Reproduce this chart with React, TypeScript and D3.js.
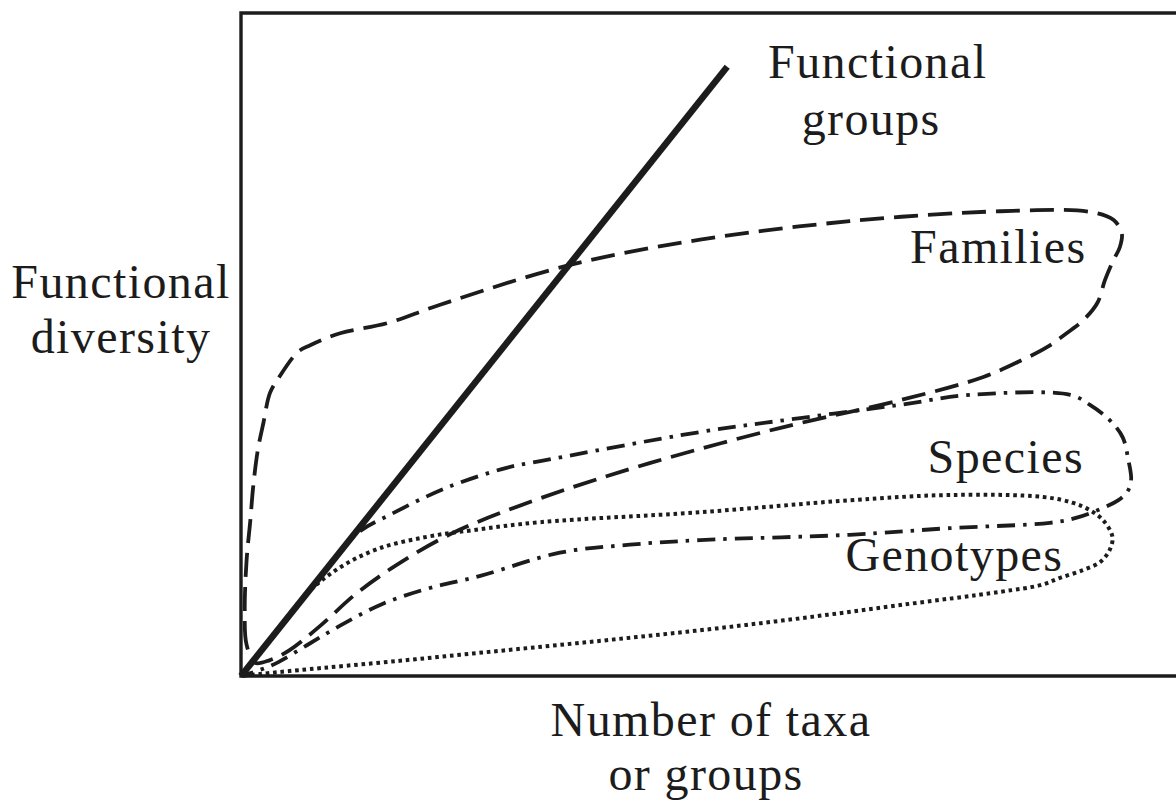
import { useEffect, useRef } from 'react'
import * as d3 from 'd3'

// Conceptual curves (x: number of taxa, y: functional diversity, both 0-100)
const functionalGroups = [
  [0, 0],
  [52.0, 91.9],
]

const families = [
  [1.5, 2.0], [0.6, 4.7], [0.4, 10.0], [0.6, 17.5], [1.0, 23.5], [1.3, 28.5],
  [1.8, 34.1], [2.4, 38.2], [3.1, 42.7], [4.0, 44.9], [6.1, 48.9], [7.4, 49.9],
  [10.6, 51.7], [15.6, 53.2], [21.3, 56.0], [35.2, 62.0], [49.1, 65.8], [65.1, 68.6],
  [81.2, 70.1], [90.8, 70.0], [93.3, 68.8], [94.2, 66.8], [94.0, 64.7], [93.3, 62.7],
  [92.4, 59.7], [91.6, 56.3], [90.1, 53.7], [88.3, 51.7], [86.2, 49.6], [83.6, 47.7],
  [79.4, 45.1], [70.5, 41.6], [57.6, 37.4], [43.7, 32.1], [32.0, 26.8], [22.7, 21.6],
  [16.7, 16.8], [12.3, 12.4], [8.5, 7.6], [5.2, 3.9], [3.1, 2.4],
]

const species = [
  [0, 0], [5.2, 9.2], [9.5, 16.7], [12.5, 21.6], [15.9, 24.3], [22.0, 28.4],
  [28.4, 31.4], [32.0, 32.4], [49.1, 36.8], [59.8, 38.9], [70.5, 40.9], [78.0, 42.4],
  [88.7, 42.4], [90.8, 40.9], [92.9, 38.6], [94.3, 36.0], [94.9, 32.6], [95.2, 29.6],
  [94.8, 27.8], [93.8, 26.5], [91.6, 25.0], [89.2, 23.8], [86.5, 23.1], [75.8, 22.3],
  [65.1, 21.3], [49.1, 20.5], [41.6, 19.8], [34.1, 18.6], [25.6, 15.1], [20.0, 13.2],
  [15.0, 10.8], [10.6, 7.6], [7.0, 4.6], [4.0, 2.1], [1.8, 0.8], [0, 0],
]

const genotypes = [
  [0, 0], [3.6, 6.3], [6.8, 12.1], [10.5, 16.3], [14.7, 19.2], [19.9, 21.0],
  [24.8, 22.0], [32.0, 23.2], [49.1, 24.7], [65.1, 26.5], [75.8, 27.3], [85.8, 27.0],
  [89.0, 26.1], [90.8, 25.0], [92.2, 23.5], [93.2, 21.0], [92.9, 19.0], [91.9, 17.2],
  [90.1, 16.0], [87.6, 14.8], [85.5, 13.7], [81.2, 12.7], [70.5, 10.7], [59.8, 8.7],
  [49.1, 6.9], [38.4, 5.3], [27.7, 3.8], [17.0, 2.3], [6.3, 0.9], [2.0, 0.3], [0, 0],
]

// curve labels: [text, x, y] in data units
const curveLabels = [
  ['Functional', 68.1, 90.2],
  ['groups', 67.4, 81.6],
  ['Families', 81.0, 62.3],
  ['Species', 81.8, 30.6],
  ['Genotypes', 76.3, 15.9],
]

const ink = '#1c1c1c'
const font = '"Liberation Serif", "Times New Roman", serif'

const App = () => {
  const svgRef = useRef(null)

  useEffect(() => {
    const svg = d3.select(svgRef.current)
    svg.selectAll('*').remove()

    const W = 1176
    const H = 805
    const left = 241
    const top = 13
    const bottom = 676

    const x = d3.scaleLinear().domain([0, 100]).range([left, W])
    const y = d3.scaleLinear().domain([0, 100]).range([bottom, top])

    // frame (open on the right, as in the figure)
    svg
      .append('path')
      .attr('d', `M${W},${top}H${left}V${bottom}H${W}`)
      .attr('fill', 'none')
      .attr('stroke', ink)
      .attr('stroke-width', 3.4)

    const openLine = d3
      .line()
      .x((d) => x(d[0]))
      .y((d) => y(d[1]))
      .curve(d3.curveCatmullRom.alpha(0.5))

    const closedLine = d3
      .line()
      .x((d) => x(d[0]))
      .y((d) => y(d[1]))
      .curve(d3.curveCatmullRomClosed.alpha(0.5))

    const g = svg.append('g').attr('fill', 'none').attr('stroke', ink)

    g.append('path')
      .attr('d', openLine(genotypes))
      .attr('stroke-width', 4)
      .attr('stroke-dasharray', '3.6 3.8')

    g.append('path')
      .attr('d', openLine(species))
      .attr('stroke-width', 3.8)
      .attr('stroke-dasharray', '18 8 3.5 8')

    g.append('path')
      .attr('d', closedLine(families))
      .attr('stroke-width', 3.8)
      .attr('stroke-dasharray', '24 10')

    g.append('path')
      .attr('d', openLine(functionalGroups))
      .attr('stroke-width', 6.5)

    const addText = (sel) =>
      sel
        .attr('text-anchor', 'middle')
        .attr('font-family', font)
        .attr('font-size', 48)
        .attr('letter-spacing', 1.4)
        .attr('fill', ink)

    // labels
    svg
      .selectAll('.curve-label')
      .data(curveLabels)
      .enter()
      .append('text')
      .attr('class', 'curve-label')
      .attr('x', (d) => x(d[1]))
      .attr('y', (d) => y(d[2]))
      .call(addText)
      .text((d) => d[0])

    const yTitle = svg.append('text').call(addText)
    yTitle.append('tspan').attr('x', 121).attr('y', 298).text('Functional')
    yTitle.append('tspan').attr('x', 121).attr('y', 353).text('diversity')

    const xTitle = svg.append('text').call(addText)
    xTitle.append('tspan').attr('x', 711).attr('y', 736).text('Number of taxa')
    xTitle.append('tspan').attr('x', 706).attr('y', 790).text('or groups')
  }, [])

  return (
    <svg
      ref={svgRef}
      width='1176'
      height='805'
      style={{ position: 'absolute', left: 0, top: 0, background: '#fff' }}
    />
  )
}

export default App
